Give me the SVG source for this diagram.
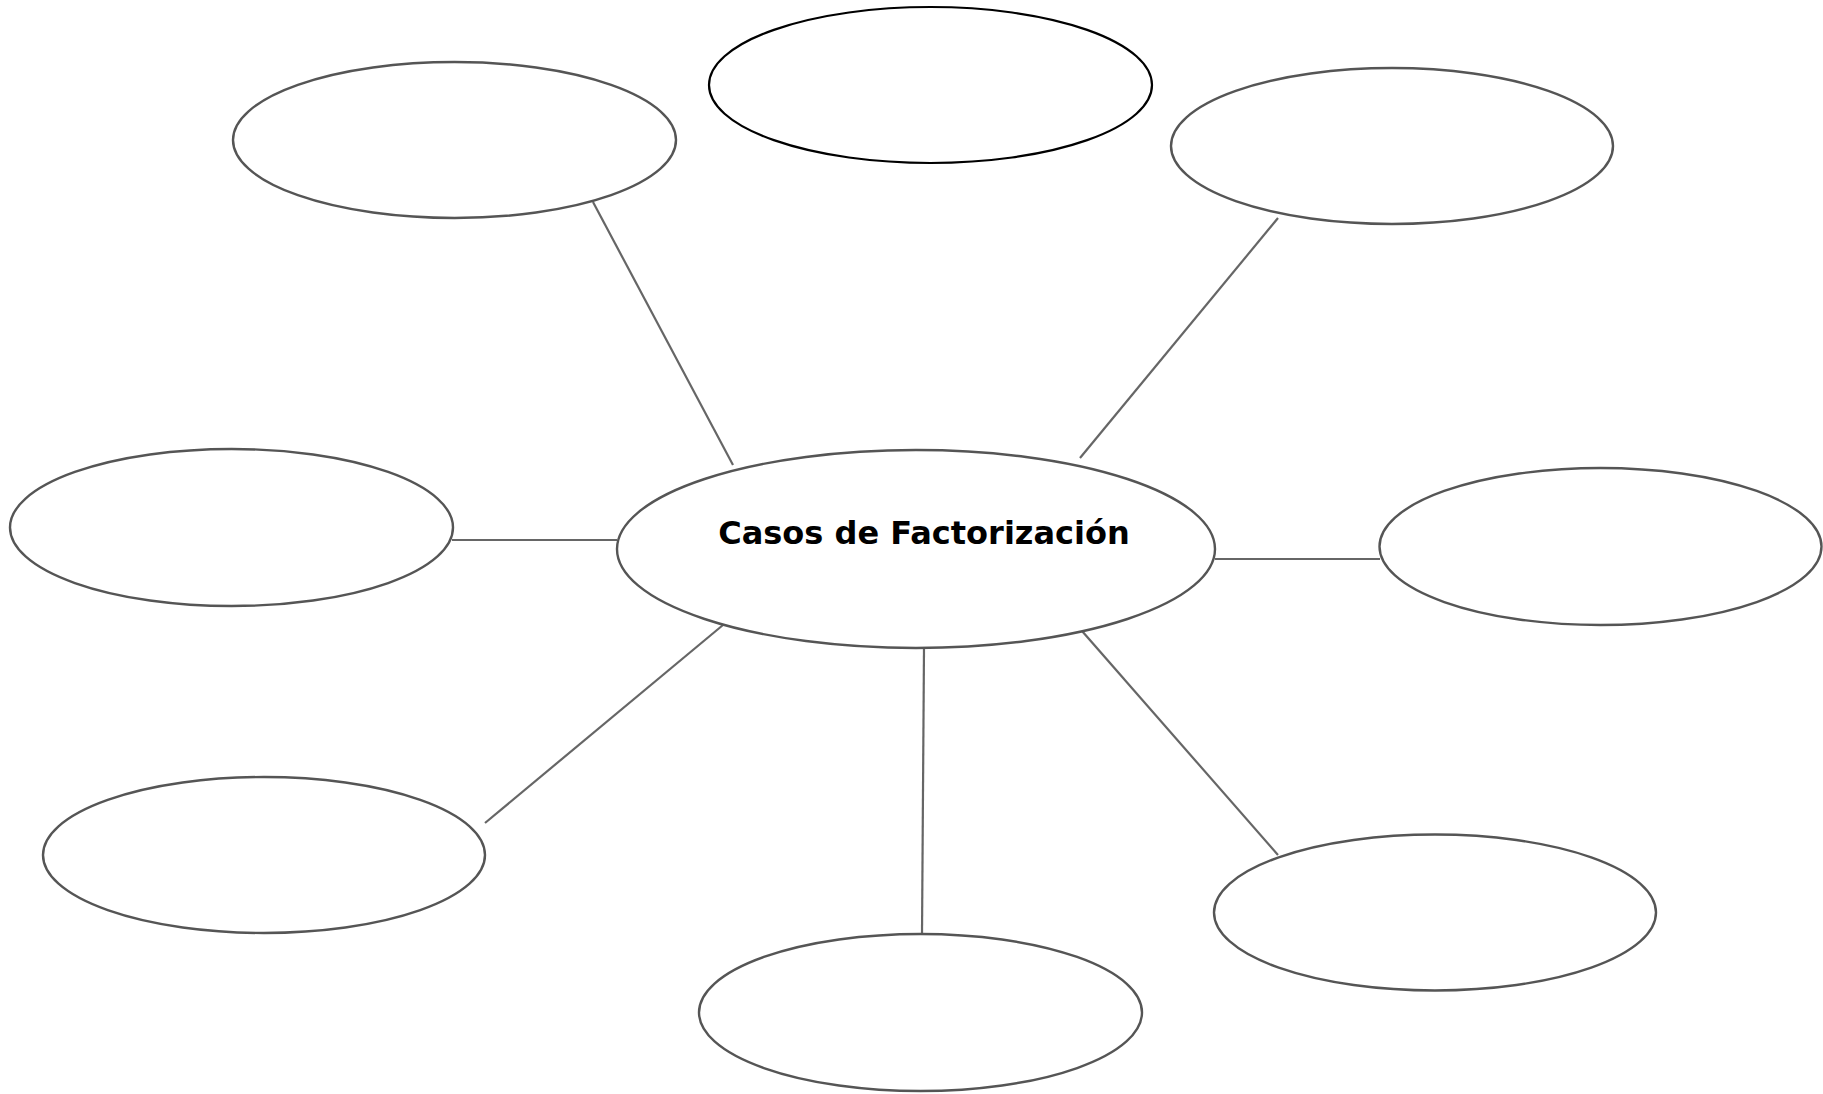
<svg xmlns="http://www.w3.org/2000/svg" width="1823" height="1094" viewBox="0 0 1823 1094">
<style>
.n{fill:#fff;stroke:#555;stroke-width:2.4}
.k{fill:#fff;stroke:#000;stroke-width:2.2}
.c{stroke:#666;stroke-width:2.2;fill:none}
.t{font-family:"DejaVu Sans",Verdana,sans-serif;font-weight:bold;font-size:32px;fill:#000}
</style>
<rect width="1823" height="1094" fill="#fff"/>
<g id="connectors">
<line class="c" x1="593" y1="202" x2="733" y2="465"/>
<line class="c" x1="1278" y1="218" x2="1080" y2="458"/>
<line class="c" x1="452" y1="540" x2="617" y2="540"/>
<line class="c" x1="1215" y1="559" x2="1380" y2="559"/>
<line class="c" x1="723" y1="625" x2="485" y2="823"/>
<line class="c" x1="924" y1="648" x2="922" y2="934"/>
<line class="c" x1="1082" y1="631" x2="1278" y2="855"/>
</g>
<g id="node-top"><ellipse class="k" cx="930.5" cy="85" rx="221.5" ry="78"/></g>
<g id="node-top-left"><ellipse class="n" cx="454.5" cy="140" rx="221.5" ry="78"/></g>
<g id="node-top-right"><ellipse class="n" cx="1392" cy="146" rx="221" ry="78"/></g>
<g id="node-left"><ellipse class="n" cx="231.5" cy="527.5" rx="221.5" ry="78.5"/></g>
<g id="node-right"><ellipse class="n" cx="1600.5" cy="546.5" rx="221" ry="78.5"/></g>
<g id="node-bottom-left"><ellipse class="n" cx="264" cy="855" rx="221" ry="78"/></g>
<g id="node-bottom"><ellipse class="n" cx="920.5" cy="1012.5" rx="221.5" ry="78.5"/></g>
<g id="node-bottom-right"><ellipse class="n" cx="1435" cy="912.5" rx="221" ry="78"/></g>
<g id="node-center">
<ellipse class="n" cx="916" cy="549" rx="299" ry="99"/>
<text class="t" x="924" y="544" text-anchor="middle">Casos de Factorización</text>
</g>
</svg>
